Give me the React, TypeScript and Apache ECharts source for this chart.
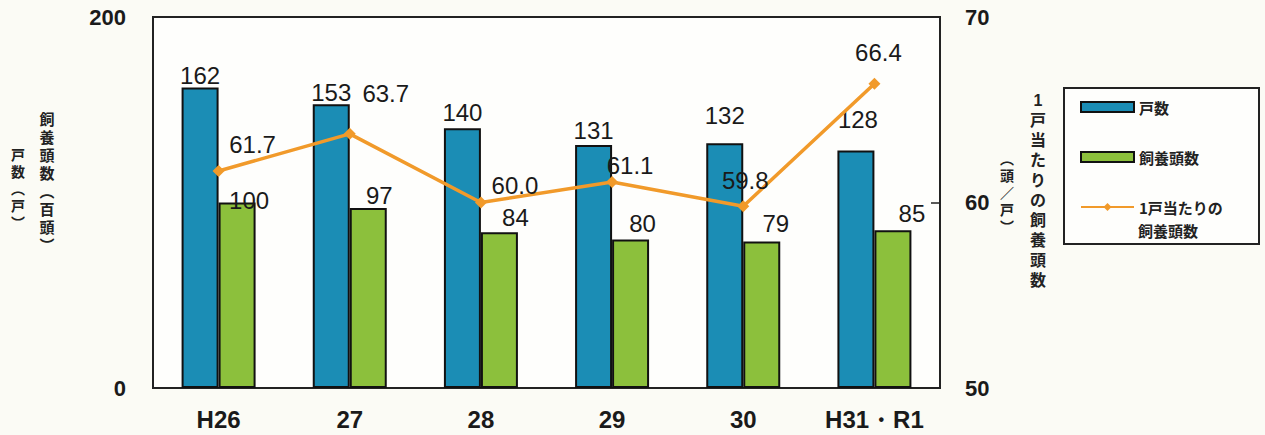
import React, { useEffect, useRef } from "react";
import * as echarts from "echarts";

const categories = ["H26", "27", "28", "29", "30", "H31・R1"];
const households = [162, 153, 140, 131, 132, 128];
const headCount = [100, 97, 84, 80, 79, 85];
const perHousehold = [61.7, 63.7, 60.0, 61.1, 59.8, 66.4];
const leftTicks = [0, 200];
const rightTicks = [50, 60, 70];

// label nudges (style only)
const blueLabelOffsets = [[0, 5], [0, 5], [0, 1], [0, 3], [0, -11], [2, -14]];
const greenLabelOffsets = [[12, 15], [11, 4], [16, 2], [12, 1], [14, -1], [19, 0]];
const lineLabelOffsets = [[34, -3], [36, -17], [34, 6], [18, 6], [2, -3], [4, -8]];

const NUM_FONT = "'Liberation Sans', Arial, sans-serif";
const CJK_FONT = "'Noto Sans CJK JP', 'Noto Sans', sans-serif";
const VERT_FONT = "'Liberation Sans', 'Noto Sans CJK JP', sans-serif";
const BLUE = "#1b8db5";
const GREEN = "#8cc03c";
const ORANGE = "#f19a2a";

function vertical(s: string) {
  return Array.from(s).join("\n");
}

export default function App() {
  const ref = useRef<HTMLDivElement>(null);
  useEffect(() => {
    if (!ref.current) return;
    const chart = echarts.init(ref.current, null, { renderer: "svg" });
    const numLabel = {
      fontFamily: NUM_FONT,
      fontSize: 24,
      color: "#1a1a1a",
    };
    const vText = (s: string, x: number, y: number, size: number, pitch: number) => ({
      type: "text",
      x,
      y,
      style: {
        text: vertical(s),
        font: `bold ${size}px ${VERT_FONT}`,
        lineHeight: pitch,
        align: "center",
        verticalAlign: "top",
        fill: "#222",
      },
    });
    chart.setOption({
      animation: false,
      backgroundColor: "#fbfbf5",
      grid: {
        left: 153,
        right: 325,
        top: 17,
        bottom: 47,
        show: true,
        backgroundColor: "#fefefc",
        borderColor: "#222",
        borderWidth: 2,
      },
      legend: {
        orient: "vertical",
        left: 1080,
        top: 96,
        padding: 0,
        itemWidth: 53,
        itemHeight: 10,
        itemGap: 28,
        textStyle: {
          fontFamily: CJK_FONT,
          fontSize: 15,
          fontWeight: "bold",
          color: "#222",
          lineHeight: 22,
        },
        data: [
          { name: "戸数", icon: "rect" },
          { name: "飼養頭数", icon: "rect" },
          { name: "1戸当たりの" },
        ],
      },
      graphic: [
        {
          type: "rect",
          left: 1063,
          top: 87,
          shape: { width: 195, height: 156 },
          style: { fill: "#fefefc", stroke: "#222", lineWidth: 2 },
          z: -1,
        },
        {
          type: "text",
          left: 1138,
          top: 223,
          style: {
            text: "飼養頭数",
            font: `bold 15px ${CJK_FONT}`,
            fill: "#222",
          },
        },
        vText("戸数︵戸︶", 18, 146, 14, 17),
        vText("飼養頭数︵百頭︶", 47, 110, 15, 18),
        vText("1戸当たりの飼養頭数", 1038, 90, 16, 20),
        vText("︵頭／戸︶", 1007, 150, 14, 17),
      ],
      xAxis: {
        type: "category",
        data: categories,
        boundaryGap: true,
        axisLine: { lineStyle: { color: "#222", width: 2 } },
        axisTick: { inside: true, length: 5, lineStyle: { color: "#222", width: 1.5 } },
        axisLabel: {
          fontFamily: NUM_FONT,
          fontSize: 24,
          fontWeight: "bold",
          color: "#1a1a1a",
          margin: 19,
        },
      },
      yAxis: [
        {
          type: "value",
          min: leftTicks[0],
          max: leftTicks[leftTicks.length - 1],
          interval: 200,
          splitLine: { show: false },
          axisLine: { show: true, lineStyle: { color: "#222", width: 2 } },
          axisTick: { show: false },
          axisLabel: {
            fontFamily: NUM_FONT,
            fontSize: 22,
            fontWeight: "bold",
            color: "#1a1a1a",
            margin: 27,
          },
        },
        {
          type: "value",
          min: rightTicks[0],
          max: rightTicks[rightTicks.length - 1],
          interval: 10,
          position: "right",
          splitLine: { show: false },
          axisLine: { show: true, lineStyle: { color: "#222", width: 2 } },
          axisTick: { show: true, inside: true, length: 9, lineStyle: { color: "#222", width: 1.5 } },
          axisLabel: {
            fontFamily: NUM_FONT,
            fontSize: 22,
            fontWeight: "bold",
            color: "#1a1a1a",
            margin: 25,
          },
        },
      ],
      series: [
        {
          name: "戸数",
          type: "bar",
          yAxisIndex: 0,
          barWidth: 37,
          barGap: "0%",
          itemStyle: { color: BLUE, borderColor: "#111", borderWidth: 2 },
          label: { show: true, position: "top", ...numLabel },
          data: households.map((v, i) => ({
            value: v,
            label: { offset: blueLabelOffsets[i] },
          })),
        },
        {
          name: "飼養頭数",
          type: "bar",
          yAxisIndex: 0,
          barWidth: 37,
          barGap: "0%",
          itemStyle: { color: GREEN, borderColor: "#111", borderWidth: 2 },
          label: { show: true, position: "top", ...numLabel },
          data: headCount.map((v, i) => ({
            value: v,
            label: { offset: greenLabelOffsets[i] },
          })),
        },
        {
          name: "1戸当たりの",
          type: "line",
          yAxisIndex: 1,
          symbol: "diamond",
          symbolSize: 12,
          lineStyle: { color: ORANGE, width: 3.5 },
          itemStyle: { color: ORANGE },
          label: {
            show: true,
            position: "top",
            ...numLabel,
            formatter: (p: any) => Number(p.value).toFixed(1),
          },
          data: perHousehold.map((v, i) => ({
            value: v,
            label: { offset: lineLabelOffsets[i] },
          })),
          z: 5,
        },
      ],
    });
    return () => chart.dispose();
  }, []);
  return (
    <div
      ref={ref}
      style={{ position: "absolute", left: 0, top: 0, width: 1265, height: 435 }}
    />
  );
}
